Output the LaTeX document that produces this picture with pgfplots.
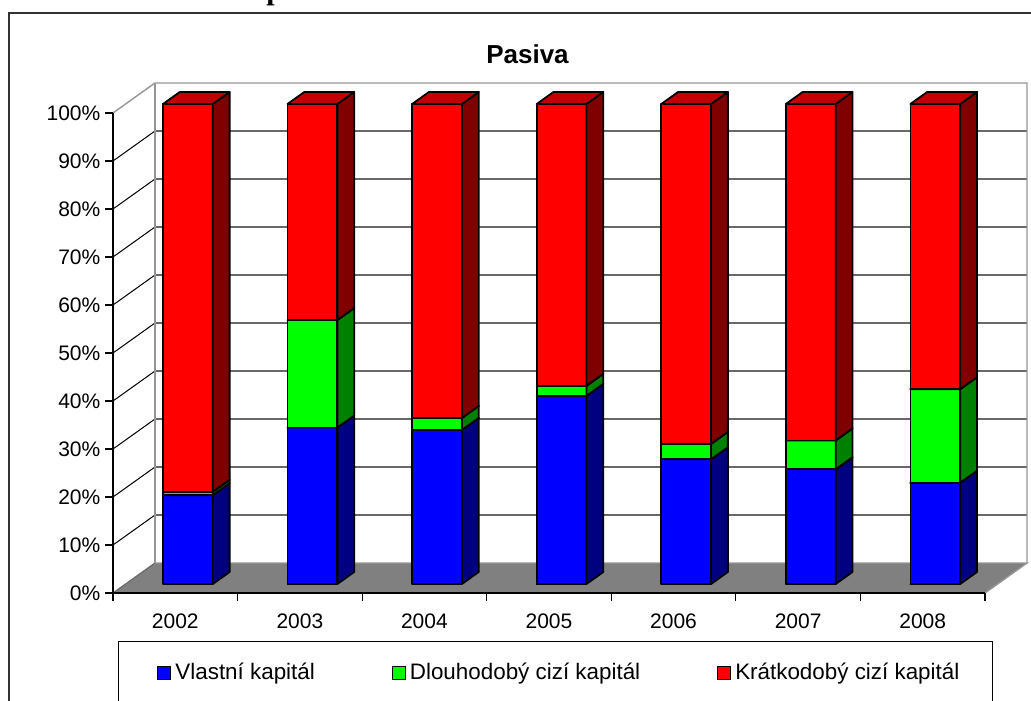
\documentclass[border=0pt]{standalone}
\usepackage{fontspec}
\setmainfont{Liberation Sans}
\newfontfamily\headfont{Liberation Serif}
\usepackage{pgfplots}
\usepackage{pgfplotstable}
\pgfplotsset{compat=1.18}

\definecolor{vkF}{RGB}{0,0,255}
\definecolor{vkS}{RGB}{0,0,128}
\definecolor{vkT}{RGB}{0,0,192}
\definecolor{dkF}{RGB}{0,255,0}
\definecolor{dkS}{RGB}{0,128,0}
\definecolor{dkT}{RGB}{0,192,0}
\definecolor{kkF}{RGB}{255,0,0}
\definecolor{kkS}{RGB}{128,0,0}
\definecolor{kkT}{RGB}{192,0,0}
\definecolor{floorgray}{RGB}{128,128,128}
\definecolor{wallgray}{RGB}{150,150,150}
\definecolor{gridgray}{RGB}{105,105,105}
\definecolor{framegray}{RGB}{50,50,50}

% structure of liabilities, percent of the total
\pgfplotstableread{
year vk   dk   kk
2002 18.5 0.7  80.8
2003 32.6 22.4 45.0
2004 32.1 2.5  65.4
2005 39.2 2.1  58.7
2006 26.0 3.2  70.8
2007 23.9 6.0  70.1
2008 21.1 19.5 59.4
}\pasiva

% one block of a stacked column: slot, bottom, top, front/side/top colours
\newcommand\colbox[6]{%
  \pgfmathsetmacro\xa{#1+0.3}%
  \pgfmathsetmacro\xb{#1+0.7}%
  \edef\boxfaces{%
    \noexpand\addplot3[fill=#4] coordinates {(\xa,0.3,#2) (\xb,0.3,#2) (\xb,0.3,#3) (\xa,0.3,#3) (\xa,0.3,#2)};
    \noexpand\addplot3[fill=#5] coordinates {(\xb,0.3,#2) (\xb,0.7,#2) (\xb,0.7,#3) (\xb,0.3,#3) (\xb,0.3,#2)};
    \noexpand\addplot3[fill=#6] coordinates {(\xa,0.3,#3) (\xb,0.3,#3) (\xb,0.7,#3) (\xa,0.7,#3) (\xa,0.3,#3)};
  }%
  \boxfaces
}

\begin{document}
\begin{tikzpicture}
\useasboundingbox (0pt,0pt) rectangle (515.5pt,350pt);
\clip (0pt,0pt) rectangle (515.5pt,350pt);
\fill[white] (0pt,0pt) rectangle (515.5pt,350pt);
% heading of the page above the chart, cut by the top edge
\node[font=\headfont\bfseries\fontsize{15}{18}\selectfont, anchor=base west, inner sep=0pt] at (133pt,350pt) {p};
% chart area frame
\draw[framegray, line width=1pt] (4.5pt,-20pt) -- (4.5pt,343.5pt) -- (540pt,343.5pt);
\node[font=\bfseries\fontsize{13}{15}\selectfont, anchor=base] at (263.75pt,318pt) {Pasiva};

% walls, floor and the 3D columns
\begin{axis}[
  at={(56.5pt,53.5pt)}, anchor=origin,
  x={(62.285pt,0pt)}, y={(21pt,15pt)}, z={(0pt,2.4pt)},
  xmin=0, xmax=7, ymin=0, ymax=1, zmin=0, zmax=100,
  hide axis, clip=false,
  every axis plot/.append style={draw=black, line width=0.9pt, mark=none, line join=round, line cap=round},
]
\fill[floorgray] (axis cs:0,0,0) -- (axis cs:7,0,0) -- (axis cs:7,1,0) -- (axis cs:0,1,0) -- cycle;
\draw[wallgray, line width=0.7pt] (axis cs:7,0,0) -- (axis cs:7,1,0) -- (axis cs:0,1,0);
\draw[gridgray, line width=0.6pt] (axis cs:0,0,0) -- (axis cs:0,1,0);
\pgfplotsinvokeforeach{10,20,...,90}{
  \draw[gridgray, line width=0.7pt] (axis cs:0,1,#1) -- (axis cs:7,1,#1);
  \draw[black, line width=0.5pt] (axis cs:0,0,#1) -- (axis cs:0,1,#1);
}
\draw[wallgray, line width=0.7pt] (axis cs:0,0,100) -- (axis cs:0,1,100) -- (axis cs:7,1,100) -- (axis cs:7,1,0);
\draw[wallgray, line width=0.7pt] (axis cs:0,1,0) -- (axis cs:0,1,100);

\pgfplotstablegetrowsof{\pasiva}
\pgfmathtruncatemacro\lastrow{\pgfplotsretval-1}
\pgfplotsforeachungrouped \i in {0,...,\lastrow}{%
  \pgfplotstablegetelem{\i}{vk}\of\pasiva \let\va\pgfplotsretval
  \pgfplotstablegetelem{\i}{dk}\of\pasiva \let\vb\pgfplotsretval
  \pgfplotstablegetelem{\i}{kk}\of\pasiva \let\vc\pgfplotsretval
  \pgfmathsetmacro\sa{\va}%
  \pgfmathsetmacro\sb{\va+\vb}%
  \pgfmathsetmacro\sc{\va+\vb+\vc}%
  \colbox{\i}{0}{\sa}{vkF}{vkS}{vkT}%
  \colbox{\i}{\sa}{\sb}{dkF}{dkS}{dkT}%
  \colbox{\i}{\sb}{\sc}{kkF}{kkS}{kkT}%
}
\end{axis}

% front axes, ticks and legend
\begin{axis}[
  at={(56.5pt,53.5pt)}, anchor=origin,
  x={(62.285pt,0pt)}, y={(0pt,2.4pt)},
  xmin=0, xmax=7, ymin=0, ymax=100,
  axis lines*=left, axis line style={black, line width=0.6pt},
  tick align=outside, major tick length=4pt,
  tick style={black, line width=0.6pt},
  xtick={0,...,7},
  xticklabels={2002,2003,2004,2005,2006,2007,2008},
  x tick label as interval,
  x tick label style={yshift=-3pt},
  ytick={0,10,...,100},
  yticklabel={\pgfmathprintnumber{\tick}\%},
  y tick label style={xshift=1.2pt},
  /pgf/number format/assume math mode=true,
  tick label style={font=\fontsize{10.5}{12.6}\selectfont},
  clip=false,
  legend columns=3,
  legend cell align=left,
  legend style={draw=none, fill=none, at={(0.0505,-0.1667)}, anchor=west,
    inner sep=0pt, font=\fontsize{11.2}{13.4}\selectfont,
    /tikz/every even column/.append style={column sep=36.5pt}},
  legend image code/.code={\draw[#1, draw=black, line width=0.5pt] (0pt,-3.25pt) rectangle (6.5pt,3.25pt);},
]
\addlegendimage{fill=vkF}
\addlegendentry{Vlastní kapitál}
\addlegendimage{fill=dkF}
\addlegendentry{Dlouhodobý cizí kapitál}
\addlegendimage{fill=kkF}
\addlegendentry{Krátkodobý cizí kapitál}
\end{axis}

\draw[black, line width=0.5pt] (59pt,-15pt) -- (59pt,29pt) -- (496pt,29pt) -- (496pt,-15pt);
\end{tikzpicture}
\end{document}
